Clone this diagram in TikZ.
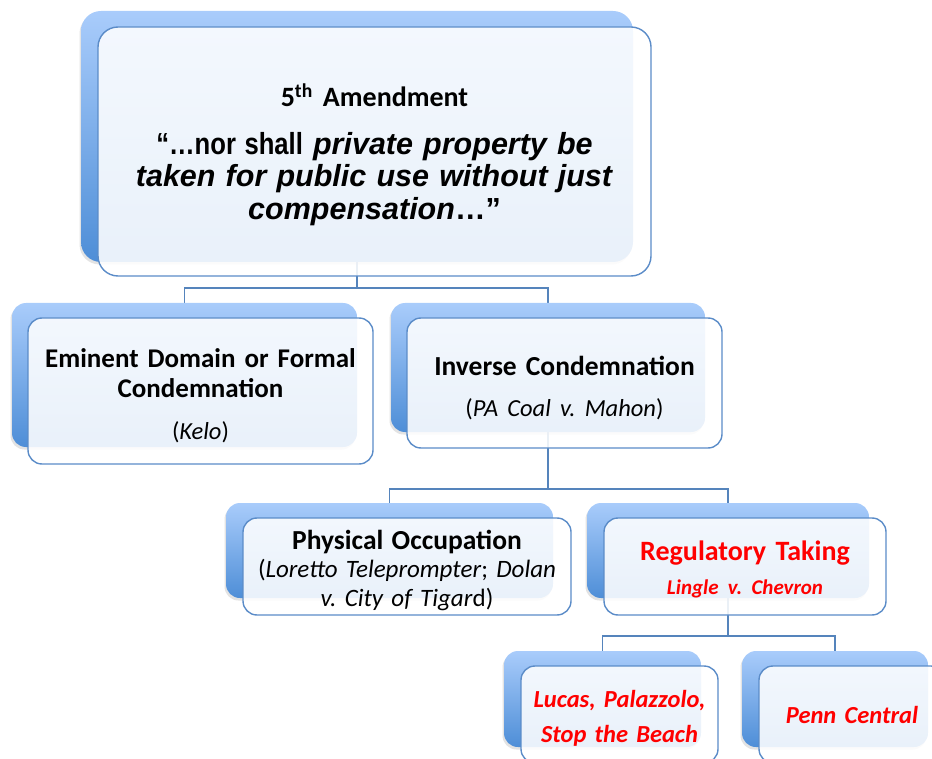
\documentclass[tikz,border=0pt]{standalone}
\usepackage{fontspec}
\usepackage{graphicx}
\setmainfont{Carlito}
\newfontfamily\arialf{Liberation Sans}
\usetikzlibrary{shadows,backgrounds}
\definecolor{connblue}{HTML}{5584BC}
\definecolor{edgeblue}{HTML}{5B8CC8}
\definecolor{shtop}{HTML}{A9CCFB}
\definecolor{shbot}{HTML}{4E8ED7}
\definecolor{txtred}{HTML}{FF0000}
\newcommand{\quotef}{\arialf\bfseries\fontsize{30.5}{32.5}\selectfont}
\newcommand{\liftline}[2]{\raisebox{#1}{\vphantom{#2}}#2}
\frenchspacing
\tikzset{
  backbox/.style={rectangle, rounded corners=14pt, top color=shtop, bottom color=shbot,
    draw=none, inner sep=0pt,
    drop shadow={shadow xshift=-1.5pt, shadow yshift=-2.5pt, opacity=0.22}},
  frontbox/.style={rectangle, rounded corners=14pt, draw=edgeblue, line width=1.4pt,
    fill=white, fill opacity=0.88, text opacity=1, inner sep=0pt, align=center},
  conn/.style={draw=connblue, line width=1.6pt},
}
\begin{document}
\begin{tikzpicture}[x=1pt,y=-1pt]
\useasboundingbox (0,0) rectangle (932,759);
\clip (0,0) rectangle (932,759);

% back (shadow) boxes
\node[backbox, minimum width=552pt, minimum height=251pt, rounded corners=20pt] (amendS) at (357,136.5) {};
\node[backbox, minimum width=345pt, minimum height=144pt] (edS) at (184.5,375) {};
\node[backbox, minimum width=314pt, minimum height=129pt] (icS) at (548,367.5) {};
\node[backbox, minimum width=327pt, minimum height=95pt] (poS) at (389.5,550.5) {};
\node[backbox, minimum width=282pt, minimum height=95pt] (rtS) at (728,550.5) {};
\node[backbox, minimum width=197pt, minimum height=96pt] (luS) at (602.5,699) {};
\node[backbox, minimum width=186pt, minimum height=96pt] (pcS) at (835,699) {};

% front boxes
\node[frontbox, rounded corners=20pt, minimum width=553pt, minimum height=249pt,
  text width=545pt, font=\quotef] (amend) at (374.5,151.5)
  {{\fontspec{Carlito}\bfseries\fontsize{28}{29}\selectfont \liftline{7pt}{5\textsuperscript{th} Amendment}}\\[15pt]
   \scalebox{0.84}[1]{“…nor shall} \textit{private property be}\\
   \textit{taken for public use without just}\\
   \textit{compensation}…”};

\node[frontbox, minimum width=345pt, minimum height=146pt, text width=340pt,
  font=\bfseries\fontsize{27}{30}\selectfont] (ed) at (200.5,391)
  {\liftline{10pt}{Eminent Domain or Formal}\\ Condemnation\\[12pt]
   {\mdseries\fontsize{24.5}{26}\selectfont(\textit{Kelo})}};

\node[frontbox, minimum width=315pt, minimum height=130pt, text width=310pt,
  font=\bfseries\fontsize{27.5}{30}\selectfont] (ic) at (564.5,383)
  {\liftline{11pt}{Inverse Condemnation}\\[11pt]
   {\mdseries\fontsize{24.5}{26}\selectfont(\textit{PA Coal v. Mahon})}};

\node[frontbox, minimum width=328pt, minimum height=97pt, text width=324pt,
  font=\fontsize{25}{28.5}\selectfont] (po) at (407,566.5)
  {{\bfseries\fontsize{27.5}{28.5}\selectfont \liftline{7pt}{Physical Occupation}}\\
   (\textit{Loretto Teleprompter}; \textit{Dolan}\\
   \textit{v. City of Tigar}d)};

\node[frontbox, minimum width=282pt, minimum height=97pt, text width=278pt,
  text=txtred, font=\bfseries\fontsize{28}{34}\selectfont] (rt) at (745,566.5)
  {\liftline{6pt}{Regulatory Taking}\\
   {\itshape\fontsize{21}{23}\selectfont Lingle v. Chevron}};

\node[frontbox, minimum width=197pt, minimum height=97pt, text width=194pt,
  text=txtred, font=\bfseries\itshape\fontsize{24.5}{35}\selectfont] (lu) at (619.5,714.5)
  {\liftline{7pt}{Lucas, Palazzolo,}\\ Stop the Beach};

\node[frontbox, minimum width=186pt, minimum height=97pt, text width=182pt,
  text=txtred, font=\bfseries\itshape\fontsize{24.5}{36}\selectfont] (pc) at (852,714.5)
  {Penn Central};

% connectors
\begin{pgfonlayer}{background}
\draw[conn] (amendS.south) |- ([yshift=15pt]edS.north) -| (edS.north);
\draw[conn] (amendS.south) |- ([yshift=15pt]icS.north) -| (icS.north);
\draw[conn] (icS.south) |- ([yshift=14pt]poS.north) -| (poS.north);
\draw[conn] (icS.south) |- ([yshift=14pt]rtS.north) -| (rtS.north);
\draw[conn] (rtS.south) |- ([yshift=15pt]luS.north) -| (luS.north);
\draw[conn] (rtS.south) |- ([yshift=15pt]pcS.north) -| (pcS.north);
\end{pgfonlayer}
\end{tikzpicture}
\end{document}
